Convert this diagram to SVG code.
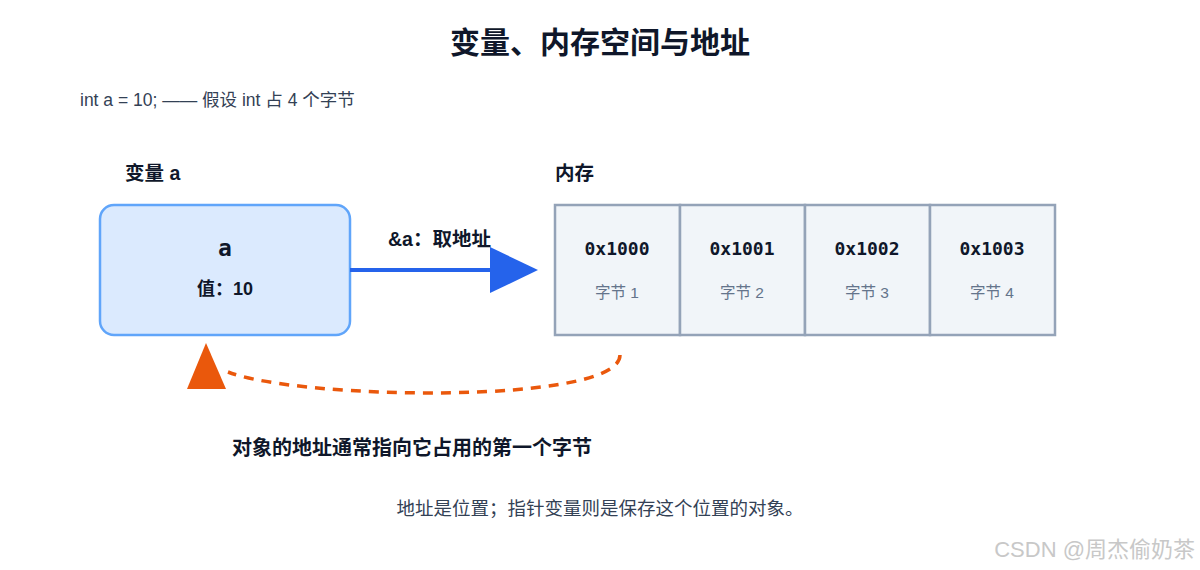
<svg xmlns="http://www.w3.org/2000/svg" width="1200" height="570" viewBox="0 0 1200 570">
<style>
text{font-family:"Liberation Sans","Noto Sans CJK SC",sans-serif;fill:#0f172a}
.b{font-weight:bold}
.m{font-family:"DejaVu Sans Mono","Liberation Mono","Noto Sans CJK SC",monospace;font-weight:bold;font-size:18px}
.cell{fill:#f1f5f9;stroke:#94a3b8;stroke-width:2.5}
text.s{font-size:15.5px;fill:#64748b}
text.g{fill:#334155}
text.w{fill:#c8c8c8}
</style>
<rect width="1200" height="570" fill="#fff"/>
<text x="600" y="53" text-anchor="middle" class="b" font-size="30">变量、内存空间与地址</text>
<text x="80" y="106" font-size="17.5" class="g">int a = 10; —— 假设 int 占 4 个字节</text>
<text x="125" y="180" class="b" font-size="19.5">变量 a</text>
<text x="555" y="180" class="b" font-size="19.5">内存</text>
<g id="var-a">
<rect x="100" y="205" width="250" height="130" rx="14" fill="#dbeafe" stroke="#60a5fa" stroke-width="2.5"/>
<text x="225" y="256" text-anchor="middle" class="m" style="font-size:23px">a</text>
<text x="225" y="295" text-anchor="middle" class="b" font-size="18">值：10</text>
</g>
<g id="mem0"><rect class="cell" x="555" y="205" width="125" height="130"/><text x="617" y="255" text-anchor="middle" class="m">0x1000</text><text x="617" y="298" text-anchor="middle" class="s">字节 1</text></g>
<g id="mem1"><rect class="cell" x="680" y="205" width="125" height="130"/><text x="742" y="255" text-anchor="middle" class="m">0x1001</text><text x="742" y="298" text-anchor="middle" class="s">字节 2</text></g>
<g id="mem2"><rect class="cell" x="805" y="205" width="125" height="130"/><text x="867" y="255" text-anchor="middle" class="m">0x1002</text><text x="867" y="298" text-anchor="middle" class="s">字节 3</text></g>
<g id="mem3"><rect class="cell" x="930" y="205" width="125" height="130"/><text x="992" y="255" text-anchor="middle" class="m">0x1003</text><text x="992" y="298" text-anchor="middle" class="s">字节 4</text></g>
<g id="connectors">
<line x1="350" y1="270" x2="492" y2="270" stroke="#2563eb" stroke-width="4"/>
<polygon points="490,247 538,270 490,293" fill="#2563eb"/>
<path d="M620 355 C620 405 300 400 228 372" fill="none" stroke="#ea580c" stroke-width="3.5" stroke-dasharray="10 8"/>
<polygon points="187,389 206,343 226,389" fill="#ea580c"/>
</g>
<text x="388" y="246" class="b" font-size="19.5">&amp;a：取地址</text>
<text x="232" y="455" class="b" font-size="20">对象的地址通常指向它占用的第一个字节</text>
<text x="600" y="515" text-anchor="middle" font-size="18.5" class="g">地址是位置；指针变量则是保存这个位置的对象。</text>
<text x="1195" y="557" text-anchor="end" font-size="22" class="w">CSDN @周杰偷奶茶</text>
</svg>
